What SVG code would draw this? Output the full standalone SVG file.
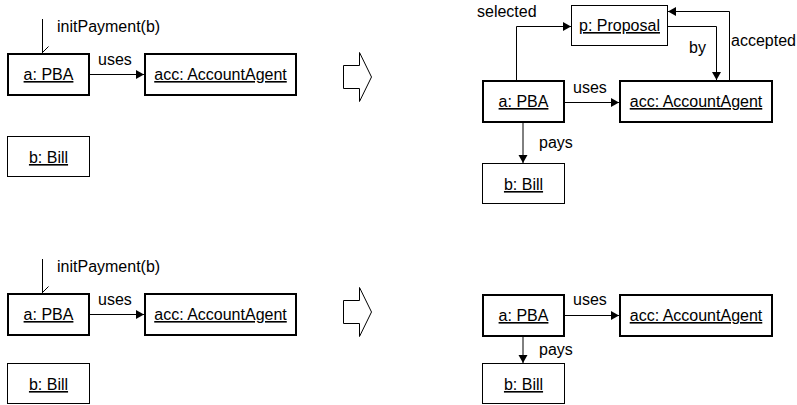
<svg xmlns="http://www.w3.org/2000/svg" width="797" height="405" viewBox="0 0 797 405">
<defs>
<marker id="arr" markerUnits="userSpaceOnUse" markerWidth="10" markerHeight="10" viewBox="0 0 10 10" refX="9" refY="5" orient="auto">
<path d="M1,0.5 L9,5 L1,9.5 Z" fill="#000"/>
</marker>
<style>
.thick{fill:#fff;stroke:#000;stroke-width:2}
.thin{fill:#fff;stroke:#000;stroke-width:1}
.nt{font-family:"Liberation Sans",Arial,sans-serif;font-size:16px;text-decoration:underline;text-anchor:middle;fill:#000}
.lb{font-family:"Liberation Sans",Arial,sans-serif;font-size:16px;fill:#000}
.ln{fill:none;stroke:#000;stroke-width:1}
.ar{fill:none;stroke:#000;stroke-width:1;marker-end:url(#arr)}
.big{fill:#fff;stroke:#000;stroke-width:1}
</style>
</defs>

<!-- upper left -->
<g id="ul-pba"><rect class="thick" x="8" y="54" width="81" height="41"/><text class="nt" x="48.5" y="80">a: PBA</text></g>
<g id="ul-acc"><rect class="thick" x="145" y="54" width="151" height="41"/><text class="nt" x="220.5" y="80">acc: AccountAgent</text></g>
<g id="ul-bill"><rect class="thin" x="7.5" y="136.5" width="82" height="40"/><text class="nt" x="48.5" y="163">b: Bill</text></g>

<!-- lower left -->
<g id="ll-pba"><rect class="thick" x="8" y="294" width="81" height="41"/><text class="nt" x="48.5" y="320">a: PBA</text></g>
<g id="ll-acc"><rect class="thick" x="145" y="294" width="151" height="41"/><text class="nt" x="220.5" y="320">acc: AccountAgent</text></g>
<g id="ll-bill"><rect class="thin" x="7.5" y="363.5" width="82" height="40"/><text class="nt" x="48.5" y="390">b: Bill</text></g>

<!-- transition arrows -->
<g id="step-upper"><polygon class="big" points="343.5,65.5 359.5,65.5 359.5,52.5 371.5,77 359.5,101.5 359.5,88.5 343.5,88.5"/></g>
<g id="step-lower"><polygon class="big" points="343.5,300.5 359.5,300.5 359.5,287.5 371.5,312 359.5,336.5 359.5,323.5 343.5,323.5"/></g>

<!-- upper right -->
<g id="ur-prop"><rect class="thin" x="571.5" y="5.5" width="96" height="40"/><text class="nt" x="619.5" y="31">p: Proposal</text></g>
<g id="ur-pba"><rect class="thick" x="483" y="81" width="81" height="41"/><text class="nt" x="523.5" y="107">a: PBA</text></g>
<g id="ur-acc"><rect class="thick" x="620" y="81" width="152" height="41"/><text class="nt" x="696" y="107">acc: AccountAgent</text></g>
<g id="ur-bill"><rect class="thin" x="482.5" y="163.5" width="82" height="40"/><text class="nt" x="523.5" y="190">b: Bill</text></g>

<!-- lower right -->
<g id="lr-pba"><rect class="thick" x="483" y="295" width="81" height="41"/><text class="nt" x="523.5" y="321">a: PBA</text></g>
<g id="lr-acc"><rect class="thick" x="620" y="295" width="152" height="41"/><text class="nt" x="696" y="321">acc: AccountAgent</text></g>
<g id="lr-bill"><rect class="thin" x="482.5" y="363.5" width="82" height="40"/><text class="nt" x="523.5" y="390">b: Bill</text></g>

<g id="connectors">
<!-- upper left -->
<path class="ln" d="M42.5,19 V53 M42.5,52.5 L48.5,46.5"/>
<text class="lb" x="57" y="32">initPayment(b)</text>
<path class="ar" d="M89,74.5 H144"/>
<text class="lb" x="98" y="65">uses</text>
<!-- lower left -->
<path class="ln" d="M42.5,259 V293 M42.5,292.5 L48.5,286.5"/>
<text class="lb" x="57" y="272">initPayment(b)</text>
<path class="ar" d="M89,314.5 H144"/>
<text class="lb" x="98" y="305">uses</text>
<!-- upper right -->
<path class="ar" d="M516.5,80 V26.5 H571"/>
<text class="lb" x="477" y="17">selected</text>
<path class="ar" d="M668,26.5 H716.5 V80"/>
<text class="lb" x="689" y="53">by</text>
<path class="ar" d="M729.5,80 V11.5 H668"/>
<text class="lb" x="731" y="46">accepted</text>
<path class="ar" d="M565,102.5 H619"/>
<text class="lb" x="573" y="93">uses</text>
<path class="ar" d="M523,122 V163"/>
<text class="lb" x="539" y="148">pays</text>
<!-- lower right -->
<path class="ar" d="M565,315.5 H619"/>
<text class="lb" x="573" y="305">uses</text>
<path class="ar" d="M523,336 V363"/>
<text class="lb" x="539" y="355">pays</text>
</g>
</svg>
